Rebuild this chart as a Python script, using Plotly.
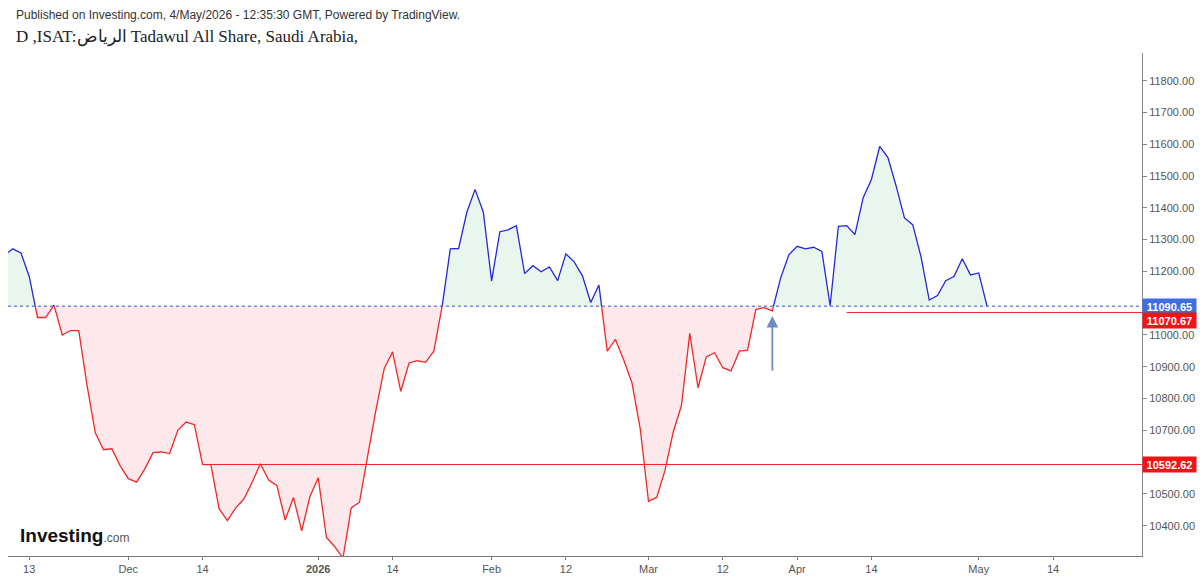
import numpy as np
import plotly.graph_objects as go

# ---- data (trading-day index 0 = 10 Nov 2025) ----
values = [
    11251, 11271, 11258, 11184, 11055, 11055, 11094, 11000, 11014, 11014,
    10842, 10692, 10639, 10642, 10589, 10548, 10537, 10579, 10630, 10632,
    10627, 10700, 10726, 10718, 10592, 10592, 10453, 10416, 10456, 10484,
    10537, 10595, 10544, 10526, 10418, 10489, 10384, 10492, 10551, 10363,
    10334, 10298, 10456, 10474, 10621, 10765, 10895, 10947, 10823, 10912,
    10919, 10914, 10949, 11088, 11271, 11272, 11386, 11458, 11386, 11170,
    11325, 11331, 11344, 11193, 11218, 11199, 11214, 11171, 11255, 11230,
    11186, 11102, 11157, 10949, 10986, 10921, 10849, 10705, 10477, 10489,
    10574, 10695, 10779, 11005, 10834, 10931, 10944, 10897, 10887, 10949,
    10952, 11080, 11086, 11076, 11179, 11252, 11279, 11271, 11276, 11263,
    11092, 11342, 11344, 11316, 11432, 11489, 11593, 11558, 11468, 11368,
    11347, 11247, 11110, 11124, 11171, 11184, 11240, 11189, 11195, 11090.65,
]
baseline = 11090.65
support_level = 10592.62
support_start = 24
resist_level = 11070.67
resist_start = 102
tick_idx = [3, 15, 24, 38, 47, 59, 68, 78, 87, 96, 105, 118, 127]
tick_text = ["13", "Dec", "14", "<b>2026</b>", "14", "Feb", "12", "Mar", "12",
             "Apr", "14", "May", "14"]
y_ticks_all = list(range(10400, 11801, 100))
arrow_idx = 93
arrow_val = 11060

x_range = [0.43, 137.77]
y_range = [10304.8, 11887.0]

# axis labels hidden behind price boxes (as on the reference)
price_marks = [baseline, resist_level, support_level]
y_ticks = [t for t in y_ticks_all if min(abs(t - p) for p in price_marks) > 20]

# ---- build baseline-split series ----
v = np.array(values, dtype=float)
xs, ys = [], []
for i in range(len(v) - 1):
    xs.append(float(i)); ys.append(v[i])
    a, b = v[i] - baseline, v[i + 1] - baseline
    if a * b < 0:
        t = (baseline - v[i]) / (v[i + 1] - v[i])
        xs.append(i + t); ys.append(baseline)
xs.append(float(len(v) - 1)); ys.append(v[-1])
xs = np.array(xs); ys = np.array(ys)
base_arr = np.full_like(ys, baseline)
upper = np.maximum(ys, baseline)
lower = np.minimum(ys, baseline)
blue_y = np.where(ys >= baseline, ys, np.nan)
red_y = np.where(ys <= baseline, ys, np.nan)

BLUE = "#2727d8"
RED = "#f02828"
FONT = "Liberation Sans, Arial, sans-serif"

fig = go.Figure()
fig.add_trace(go.Scatter(x=xs, y=base_arr, mode="lines", line=dict(width=0),
                         showlegend=False, hoverinfo="skip"))
fig.add_trace(go.Scatter(x=xs, y=upper, mode="lines", line=dict(width=0),
                         fill="tonexty", fillcolor="rgba(205,235,215,0.45)",
                         showlegend=False, hoverinfo="skip"))
fig.add_trace(go.Scatter(x=xs, y=base_arr, mode="lines", line=dict(width=0),
                         showlegend=False, hoverinfo="skip"))
fig.add_trace(go.Scatter(x=xs, y=lower, mode="lines", line=dict(width=0),
                         fill="tonexty", fillcolor="rgba(250,205,210,0.45)",
                         showlegend=False, hoverinfo="skip"))
fig.add_trace(go.Scatter(x=xs, y=blue_y, mode="lines",
                         line=dict(color=BLUE, width=1.3),
                         showlegend=False, connectgaps=False))
fig.add_trace(go.Scatter(x=xs, y=red_y, mode="lines",
                         line=dict(color=RED, width=1.3),
                         showlegend=False, connectgaps=False))

shapes = [
    dict(type="line", xref="paper", x0=0, x1=1, yref="y", y0=baseline, y1=baseline,
         line=dict(color="#3a4fd0", width=1, dash="dot")),
    dict(type="line", xref="x", x0=support_start, x1=x_range[1], yref="y",
         y0=support_level, y1=support_level, line=dict(color=RED, width=1)),
    dict(type="line", xref="x", x0=resist_start, x1=x_range[1], yref="y",
         y0=resist_level, y1=resist_level, line=dict(color=RED, width=1)),
]

def px_x(p):
    return (p - 8) / (1142 - 8)

def px_y(p):
    return (556 - p) / (556 - 53)

annotations = [
    dict(text="Published on Investing.com, 4/May/2026 - 12:35:30 GMT, Powered by TradingView.",
         xref="paper", yref="paper", x=px_x(14), y=px_y(15), xanchor="left", yanchor="middle",
         showarrow=False, font=dict(family=FONT, size=12, color="#333333")),
    dict(text="D ,ISAT:الرياض Tadawul All Share, Saudi Arabia,",
         xref="paper", yref="paper", x=px_x(14), y=px_y(37), xanchor="left", yanchor="middle",
         showarrow=False, font=dict(family="Liberation Serif, DejaVu Serif, serif", size=17,
                                    color="#222222")),
    dict(text="<b>Investing</b><span style='font-size:12px;color:#555555'>.com</span>",
         xref="paper", yref="paper", x=px_x(18), y=px_y(535), xanchor="left", yanchor="middle",
         showarrow=False, font=dict(family=FONT, size=19, color="#111111")),
    dict(text="<b>11090.65</b>", xref="paper", x=1, xanchor="left", yref="y", y=baseline,
         yanchor="middle", showarrow=False, bgcolor="#3d6fe0", width=50, height=12,
         borderpad=1.5, font=dict(family=FONT, size=11, color="white")),
    dict(text="<b>11070.67</b>", xref="paper", x=1, xanchor="left", yref="y", y=resist_level,
         yanchor="middle", yshift=-8, showarrow=False, bgcolor="#f01414", width=50, height=12,
         borderpad=1.5, font=dict(family=FONT, size=11, color="white")),
    dict(text="<b>10592.62</b>", xref="paper", x=1, xanchor="left", yref="y", y=support_level,
         yanchor="middle", showarrow=False, bgcolor="#f01414", width=50, height=12,
         borderpad=1.5, font=dict(family=FONT, size=11, color="white")),
    dict(text="", x=arrow_idx, y=arrow_val, xref="x", yref="y", showarrow=True,
         ax=0, ay=56, arrowcolor="#6f8cc4", arrowwidth=1.8, arrowhead=2, arrowsize=1.3),
]

fig.update_layout(
    width=1200, height=578,
    margin=dict(l=8, r=58, t=53, b=22, autoexpand=False),
    paper_bgcolor="white", plot_bgcolor="white",
    shapes=shapes, annotations=annotations,
    xaxis=dict(range=x_range, showgrid=False, zeroline=False, showline=True,
               linecolor="#777777", linewidth=1, ticks="outside", ticklen=3,
               tickcolor="#777777", tickvals=tick_idx, ticktext=tick_text,
               tickfont=dict(family=FONT, size=11, color="#555555"), fixedrange=True),
    yaxis=dict(range=y_range, side="right", showgrid=False, zeroline=False,
               showline=True, linecolor="#888888", linewidth=1, ticks="outside",
               ticklen=4, tickcolor="#888888", tickvals=y_ticks, tickformat=".2f",
               tickfont=dict(family=FONT, size=11, color="#555555"), fixedrange=True),
)

fig.write_html("out.html")
